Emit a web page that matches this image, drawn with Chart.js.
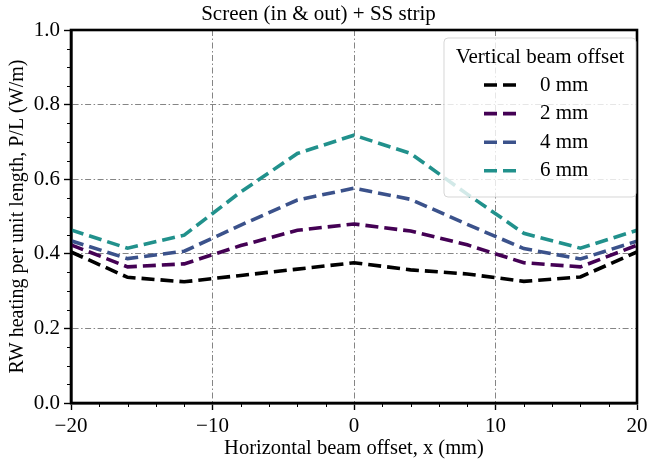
<!DOCTYPE html>
<html>
<head>
<meta charset="utf-8">
<script src="https://cdn.jsdelivr.net/npm/chart.js@4/dist/chart.umd.min.js"></script>
<style>
  html, body { margin: 0; padding: 0; background: #ffffff; }
  #wrap { width: 659px; height: 462px; position: relative; }
</style>
</head>
<body>
<div id="wrap"><canvas id="c" width="659" height="462"></canvas></div>
<script>
// Horizontal beam offset (mm)
const xOffsets = [-20, -16, -12, -8, -4, 0, 4, 8, 12, 16, 20];

// Resistive-wall heating per unit length (W/m) for each vertical beam offset
const heat0mm = [0.405, 0.337, 0.325, 0.342, 0.359, 0.376, 0.357, 0.346, 0.326, 0.338, 0.405];
const heat2mm = [0.424, 0.365, 0.373, 0.422, 0.463, 0.480, 0.461, 0.424, 0.376, 0.365, 0.423];
const heat4mm = [0.435, 0.387, 0.407, 0.477, 0.544, 0.576, 0.546, 0.479, 0.414, 0.386, 0.434];
const heat6mm = [0.464, 0.415, 0.450, 0.566, 0.669, 0.718, 0.669, 0.560, 0.455, 0.415, 0.463];

const seriesLabels = ['0 mm', '2 mm', '4 mm', '6 mm'];
const seriesColors = ['#000000', '#440154', '#3b528b', '#21918c'];
const seriesValues = [heat0mm, heat2mm, heat4mm, heat6mm];

const xTicks = [-20, -10, 0, 10, 20];
const yTicks = [0.0, 0.2, 0.4, 0.6, 0.8, 1.0];

const SERIF = '"Liberation Serif", "Times New Roman", serif';
const DASH = [13, 6];

const datasets = seriesValues.map((vals, i) => ({
  label: seriesLabels[i],
  data: xOffsets.map((x, j) => ({ x: x, y: vals[j] })),
  borderColor: seriesColors[i],
  backgroundColor: seriesColors[i],
  borderWidth: 3.6,
  borderDash: DASH,
  borderCapStyle: 'butt',
  pointRadius: 0,
  tension: 0,
  fill: false
}));

const fmt = v => {
  const s = String(v);
  return s.startsWith('-') ? '\u2212' + s.slice(1) : s;
};

// Minor tick marks, plot frame and the in-plot legend
const decorations = {
  id: 'decorations',
  afterDatasetsDraw(chart) {
    const { ctx, chartArea: a, scales } = chart;
    ctx.save();
    // minor ticks
    ctx.strokeStyle = '#000';
    ctx.lineWidth = 1;
    ctx.beginPath();
    for (let v = -20; v <= 20; v += 2) {
      if (v % 10 === 0) continue;
      const px = Math.round(scales.x.getPixelForValue(v)) + 0.5;
      ctx.moveTo(px, a.bottom); ctx.lineTo(px, a.bottom + 4);
    }
    for (let k = 0; k <= 20; k++) {
      if (k % 4 === 0) continue;
      const py = Math.round(scales.y.getPixelForValue(k * 0.05)) + 0.5;
      ctx.moveTo(a.left, py); ctx.lineTo(a.left - 4, py);
    }
    ctx.stroke();
    // frame
    ctx.lineWidth = 2.6;
    ctx.strokeRect(a.left, a.top, a.right - a.left, a.bottom - a.top);
    ctx.restore();

    // legend
    const lx = a.right - 193, ly = a.top + 8, lw = 192, lh = 159;
    ctx.save();
    ctx.beginPath();
    if (ctx.roundRect) ctx.roundRect(lx, ly, lw, lh, 4); else ctx.rect(lx, ly, lw, lh);
    ctx.fillStyle = 'rgba(255,255,255,0.8)';
    ctx.fill();
    ctx.strokeStyle = 'rgba(204,204,204,0.8)';
    ctx.lineWidth = 1;
    ctx.stroke();
    ctx.fillStyle = '#000';
    ctx.textBaseline = 'middle';
    ctx.textAlign = 'center';
    ctx.font = '21px ' + SERIF;
    ctx.fillText('Vertical beam offset', lx + lw / 2, ly + 19);
    ctx.textAlign = 'left';
    datasets.forEach((ds, i) => {
      const yy = ly + 47 + i * 28.6;
      ctx.beginPath();
      ctx.setLineDash(DASH);
      ctx.lineWidth = 3.6;
      ctx.lineCap = 'butt';
      ctx.strokeStyle = ds.borderColor;
      ctx.moveTo(lx + 40, yy);
      ctx.lineTo(lx + 76, yy);
      ctx.stroke();
      ctx.setLineDash([]);
      ctx.fillText(ds.label, lx + 96, yy);
    });
    ctx.restore();
  }
};

new Chart(document.getElementById('c'), {
  type: 'line',
  data: { datasets },
  plugins: [decorations],
  options: {
    responsive: false,
    animation: false,
    layout: { padding: { left: 0, right: 22, top: 0, bottom: 0 } },
    plugins: {
      legend: { display: false },
      tooltip: { enabled: false },
      title: {
        display: true,
        text: 'Screen (in & out) + SS strip',
        color: '#000',
        font: { family: SERIF, size: 21, weight: 'normal' },
        padding: { top: 2, bottom: 2.8 }
      }
    },
    scales: {
      x: {
        type: 'linear',
        min: -20, max: 20,
        afterBuildTicks: s => { s.ticks = xTicks.map(v => ({ value: v })); },
        afterFit: s => { s.height = 59; },
        ticks: {
          color: '#000',
          font: { family: SERIF, size: 21 },
          padding: 4,
          maxRotation: 0,
          callback: v => fmt(v)
        },
        grid: {
          color: '#666',
          lineWidth: 0.8,
          tickColor: '#000',
          tickLength: 7,
          tickWidth: 1.4
        },
        border: { display: true, color: '#000', width: 2.6, dash: [6, 2.5, 1.5, 2.5] },
        title: {
          display: true,
          text: 'Horizontal beam offset, x (mm)',
          color: '#000',
          font: { family: SERIF, size: 20.5 },
          padding: { top: 0, bottom: 1 }
        }
      },
      y: {
        type: 'linear',
        min: 0, max: 1,
        afterBuildTicks: s => { s.ticks = yTicks.map(v => ({ value: v })); },
        afterFit: s => { s.width = 71; },
        ticks: {
          color: '#000',
          font: { family: SERIF, size: 21 },
          padding: 4,
          callback: v => Number(v).toFixed(1)
        },
        grid: {
          color: '#666',
          lineWidth: 0.8,
          tickColor: '#000',
          tickLength: 7,
          tickWidth: 1.4
        },
        border: { display: true, color: '#000', width: 2.6, dash: [6, 2.5, 1.5, 2.5] },
        title: {
          display: true,
          text: 'RW heating per unit length, P/L (W/m)',
          color: '#000',
          font: { family: SERIF, size: 20 },
          padding: { top: 6, bottom: 0 }
        }
      }
    }
  }
});
</script>
</body>
</html>
